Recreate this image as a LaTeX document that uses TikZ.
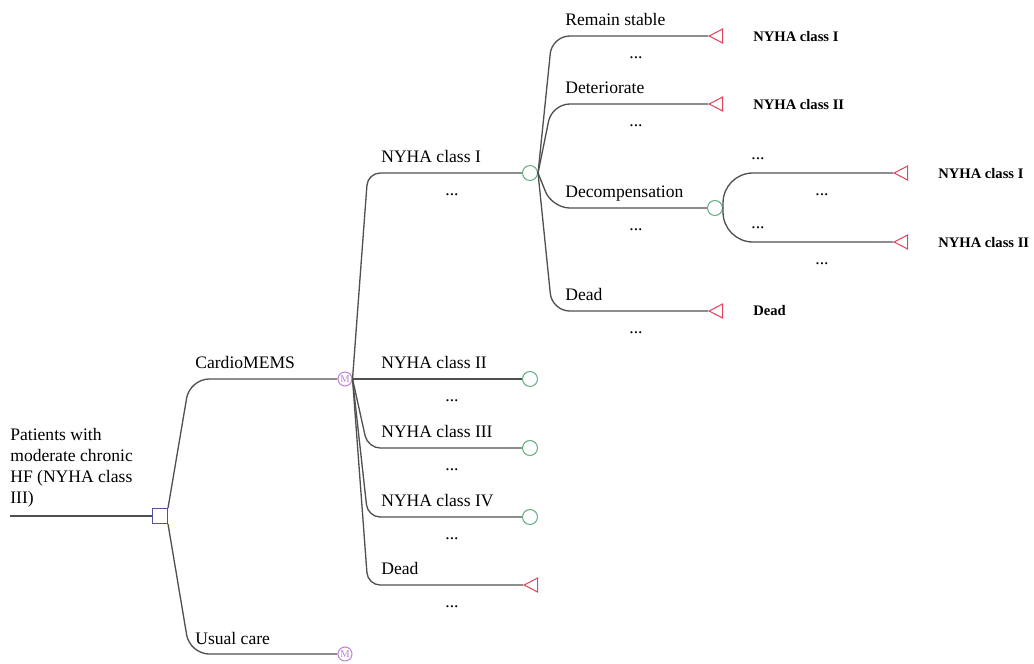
\documentclass[tikz,border=0pt]{standalone}
\usepackage{fontspec}
\setmainfont{Liberation Serif}
\usepackage{xcolor}
\usetikzlibrary{shapes.geometric}
\definecolor{linegray}{RGB}{80,80,80}
\definecolor{chgreen}{RGB}{100,175,130}
\definecolor{termred}{RGB}{225,70,95}
\definecolor{markovpurple}{RGB}{190,130,210}
\definecolor{decblue}{RGB}{80,80,170}

\begin{document}
\begin{tikzpicture}[x=0.02cm, y=-0.02cm,
  br/.style={draw=linegray, line width=0.75pt, rounded corners=7pt},
  decn/.style={rectangle, draw=decblue, line width=0.6pt, minimum size=0.3cm, inner sep=0pt},
  chn/.style={circle, draw=chgreen, line width=0.6pt, minimum size=0.3cm, inner sep=0pt},
  mkn/.style={circle, draw=markovpurple, line width=0.6pt, minimum size=0.28cm, inner sep=0pt, text=markovpurple, font=\fontsize{6}{6}\selectfont},
  term/.style={isosceles triangle, isosceles triangle apex angle=55, shape border rotate=180, draw=termred, line width=0.6pt, minimum size=0.27cm, inner sep=0pt, anchor=apex},
  lab/.style={font=\fontsize{10}{12}\selectfont, anchor=base west, inner sep=0pt},
  dots/.style={font=\fontsize{10}{12}\selectfont, anchor=base, inner sep=0pt},
  tlab/.style={font=\fontsize{8.3}{10}\selectfont\bfseries, anchor=west, inner sep=0pt}
]
  \useasboundingbox (0,0) rectangle (1034,663);
  % ---------------- decision and markov nodes ----------------
  \coordinate (start) at (10,516);
  \node[decn] (dec) at (160,516) {};
  \node[mkn] (mcm) at (345,379) {M};
  \node[mkn] (muc) at (345,654) {M};
  % health states under CardioMEMS
  \node[chn] (cI) at (530,173) {};
  \node[chn] (cII) at (530,379) {};
  \node[chn] (cIII) at (530,448) {};
  \node[chn] (cIV) at (530,517) {};
  \node[term] (tdead) at (523,585) {};
  % transitions out of NYHA class I
  \node[term] (tstab) at (708,36) {};
  \node[term] (tdet) at (708,104) {};
  \node[chn] (cdec) at (715,208) {};
  \node[term] (tcdead) at (708,311) {};
  \node[term] (tdI) at (893,173) {};
  \node[term] (tdII) at (893,242) {};
  % ---------------- branch labels ----------------
  \node[font=\fontsize{10}{12}\selectfont, align=left, anchor=west, inner sep=0pt] (lpat) at (10,468)
    {Patients with\\moderate chronic\\HF (NYHA class\\III)};
  \node[lab] (lcm) at (195,368) {CardioMEMS};
  \node[lab] (luc) at (195,644) {Usual care};
  \node[lab] (lI) at (381,162) {NYHA class I};
  \node[lab] (lII) at (381,368) {NYHA class II};
  \node[lab] (lIII) at (381,437) {NYHA class III};
  \node[lab] (lIV) at (381,506) {NYHA class IV};
  \node[lab] (ldead) at (381,574) {Dead};
  \node[lab] (lstab) at (565,25) {Remain stable};
  \node[lab] (ldet) at (565,93) {Deteriorate};
  \node[lab] (ldec) at (565,197) {Decompensation};
  \node[lab] (lcdead) at (565,300) {Dead};
  % probabilities left open
  \node[dots] (pI) at (452,195) {...};
  \node[dots] (pII) at (452,401) {...};
  \node[dots] (pIII) at (452,470) {...};
  \node[dots] (pIV) at (452,539) {...};
  \node[dots] (pdead) at (452,607) {...};
  \node[dots] (pstab) at (636,58) {...};
  \node[dots] (pdet) at (636,126) {...};
  \node[dots] (pdec) at (636,230) {...};
  \node[dots] (pcdead) at (636,333) {...};
  \node[dots] (ndI) at (758,159) {...};
  \node[dots] (ndII) at (758,228) {...};
  \node[dots] (pdI) at (822,195) {...};
  \node[dots] (pdII) at (822,264) {...};
  % terminal states
  \node[tlab] (oStab) at (753,37) {NYHA class I};
  \node[tlab] (oDet) at (753,105) {NYHA class II};
  \node[tlab] (oDead) at (753,311) {Dead};
  \node[tlab] (odI) at (938,174) {NYHA class I};
  \node[tlab] (odII) at (938,243) {NYHA class II};
  % ---------------- branches ----------------
  \draw[br] (start) -- (dec);
  \draw[br, rounded corners=11pt] (dec.north east) -- ([xshift=17pt]dec.center |- mcm) -- (mcm);
  \draw[br, rounded corners=11pt] (dec.south east) -- ([xshift=17pt]dec.center |- muc) -- (muc);
  \draw[br] (mcm) -- (cII);
  \foreach \c in {cI, cIII, cIV, tdead}
    \draw[br] (mcm.east) -- ([xshift=13pt]mcm.center |- \c) -- (\c);
  \foreach \c in {tstab, tdet, cdec, tcdead}
    \draw[br, rounded corners=10pt] (cI.east) -- ([xshift=8pt]cI.east |- \c) -- (\c);
  \foreach \c in {tdI, tdII}
    \draw[br, rounded corners=17pt] (cdec.east) -- (cdec.east |- \c) -- (\c);
\end{tikzpicture}
\end{document}
